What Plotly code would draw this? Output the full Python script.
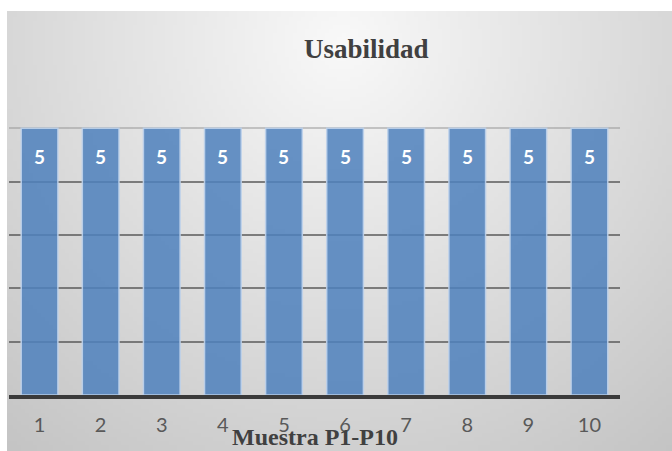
import base64, struct, zlib
import numpy as np
import plotly.graph_objects as go

categories = ["1", "2", "3", "4", "5", "6", "7", "8", "9", "10"]
values = [5, 5, 5, 5, 5, 5, 5, 5, 5, 5]
title_text = "Usabilidad"
x_title = "Muestra P1-P10"

W_PAGE, H_PAGE = 672, 451
L, R, T, B = 9, 52, 75, 56
plot_w = W_PAGE - L - R
plot_h = H_PAGE - T - B


def png_uri(arr):
    h, w, _ = arr.shape
    raw = b"".join(b"\x00" + arr[i].tobytes() for i in range(h))

    def chunk(tag, data):
        c = struct.pack(">I", len(data)) + tag + data
        return c + struct.pack(">I", zlib.crc32(tag + data) & 0xFFFFFFFF)

    png = b"\x89PNG\r\n\x1a\n" + chunk(b"IHDR", struct.pack(">IIBBBBB", w, h, 8, 2, 0, 0, 0))
    png += chunk(b"IDAT", zlib.compress(raw, 9)) + chunk(b"IEND", b"")
    return "data:image/png;base64," + base64.b64encode(png).decode()


# background radial gradient (chart area from x=7,y=11 to page edge)
bx0, by0 = 7, 11
bw, bh = W_PAGE - bx0, H_PAGE - by0
s = 4
gw, gh = bw // s, bh // s
yy, xx = np.mgrid[0:gh, 0:gw]
px = xx * s + bx0
py = yy * s + by0
d = np.sqrt((px - 340) ** 2 + ((py - 40) * 1.0) ** 2)
v = np.clip(249 - 0.1 * d, 185, 250).astype(np.uint8)
img = np.stack([v, v, v], axis=-1)
bg_uri = png_uri(img)


def to_px(p):
    return (p - L) / plot_w


def to_py(p):
    return (H_PAGE - B - p) / plot_h


fig = go.Figure()
fig.add_trace(go.Bar(
    x=categories, y=values,
    marker=dict(color="rgba(79,129,189,0.86)", line=dict(color="rgba(190,210,235,0.9)", width=1.5)),
    hoverinfo="skip",
))

# invisible trace on second axis for light gridlines at the top
fig.add_trace(go.Scatter(x=categories, y=values, yaxis="y2", mode="none", showlegend=False, hoverinfo="skip"))

# value labels, placed at each category index
for i, val in enumerate(values):
    fig.add_annotation(x=i, y=val, text=f"<b>{val}</b>", showarrow=False, yanchor="middle",
                       yshift=-28, font=dict(family="Lato, Open Sans, sans-serif", size=19, color="white"))

fig.add_annotation(xref="paper", yref="paper", x=to_px(315), y=to_py(437), text=f"<b>{x_title}</b>",
                   showarrow=False, xanchor="center", yanchor="middle",
                   font=dict(family="Liberation Serif, Times New Roman, serif", size=24, color="#404040"))

fig.add_layout_image(dict(source=bg_uri, xref="paper", yref="paper", x=to_px(bx0), y=to_py(by0),
                          sizex=bw / plot_w, sizey=bh / plot_h, xanchor="left", yanchor="top",
                          sizing="stretch", layer="below"))

fig.update_layout(
    width=W_PAGE, height=H_PAGE,
    margin=dict(l=L, r=R, t=T, b=B),
    paper_bgcolor="white", plot_bgcolor="rgba(0,0,0,0)",
    showlegend=False, bargap=0.4,
    title=dict(text=f"<b>{title_text}</b>", x=to_px(342), xanchor="center", y=1 - 49 / H_PAGE, yanchor="middle",
               font=dict(family="Liberation Serif, Times New Roman, serif", size=27, color="#404040")),
    xaxis=dict(type="category", range=[-0.5, 9.5], showline=True, linecolor="#3a3a3a", linewidth=3.5,
               ticks="outside", ticklen=9, tickcolor="rgba(0,0,0,0)",
               tickfont=dict(family="Lato, Open Sans, sans-serif", size=20, color="#595959"),
               showgrid=False, fixedrange=True),
    yaxis=dict(range=[0, 6], tickvals=[1, 2, 3, 4], showticklabels=False, showgrid=True,
               gridcolor="rgba(90,90,90,0.75)", gridwidth=1.5, zeroline=False, fixedrange=True),
    yaxis2=dict(range=[0, 6], overlaying="y", tickvals=[5, 6], showticklabels=False, showgrid=True,
                gridcolor="rgba(150,150,150,0.5)", gridwidth=1.5, zeroline=False, fixedrange=True),
)

fig.write_html("out.html", config={"displayModeBar": False},
               post_script="document.body.style.margin='0';document.body.style.overflow='hidden';")
